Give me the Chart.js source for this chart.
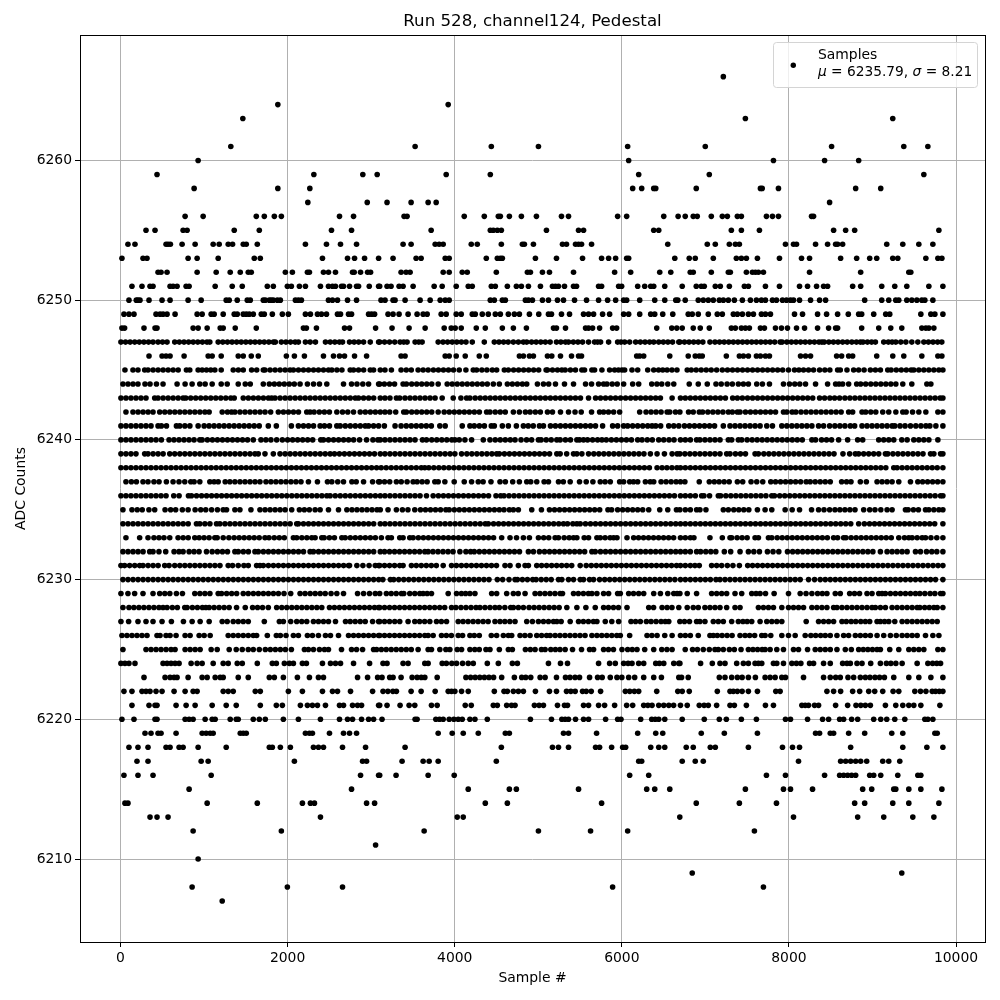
<!DOCTYPE html>
<html><head><meta charset="utf-8">
<style>html,body{margin:0;padding:0;background:#fff}canvas{display:block}</style>
<script src="https://cdn.jsdelivr.net/npm/chart.js@4"></script>
</head><body><canvas id="c" width="1000" height="1000"></canvas>
<script>
const xTicks=[0,2000,4000,6000,8000,10000];
const yTicks=[6210,6220,6230,6240,6250,6260];
const titleText="Run 528, channel124, Pedestal";
const xLabel="Sample #";
const yLabel="ADC Counts";
const seriesName="Samples";
const statMu="6235.79";
const statSigma="8.21";
const row6207=[1217];
const row6208=[857,1997,2657,5890,7695];
const row6209=[6843,9351];
const row6210=[929];
const row6211=[3053];
const row6212=[869,1925,3634,5002,5626,6070,7587];
const row6213=[353,437,569,2393,4030,4102,6694,8055,8823,9135,9483,9735];
const row6214=[53,89,1037,1637,2177,2273,2321,2945,3041,4366,4630,5758,6891,7407,7851,8787,8907,9243,9435,9795];
const row6215=[821,2765,4162,4654,4738,5482,6298,6394,6574,7479,7935,8019,8283,8883,8991,9255,9279,9435,9579,9831];
const row6216=[41,209,389,1085,2873,3089,3102,3298,3682,3994,6094,6322,7731,7959,8427,8607,8655,8703,8751,8799,8967,9015,9099,9303,9543,9579];
const row6217=[197,329,965,1049,2081,2897,2945,3370,3622,3694,3802,4498,6202,6238,6723,6879,6975,8115,8619,8679,8739,8799,8859,8931,9123,9195,9327];
const row6218=[101,209,329,545,593,701,749,929,1265,1781,1817,1913,2033,2309,2369,2429,2657,2933,3406,4558,5170,5242,5362,5686,5734,5878,6010,6046,6346,6442,6514,6771,6855,7059,7119,7515,7923,8043,8127,8739,9363,9651,9843];
const row6219=[293,365,449,485,665,977,1025,1073,1109,1433,1469,1505,2213,2261,2297,2501,2669,2741,2825,3802,3970,4102,4282,4606,4654,5302,5362,5698,6190,6406,6490,6951,7227,7623,8319,8367,8495,8535,8715,8907,9231,9363,9747,9775];
const row6220=[17,161,413,437,773,821,869,1013,1097,1133,1313,1385,1409,1589,1661,1733,1949,2129,2393,2621,2717,2777,2885,2969,3029,3130,3526,3550,3774,3818,3862,3934,3990,4042,4090,4182,4242,4390,4906,5158,5282,5322,5362,5446,5542,5602,5806,5950,5990,6226,6358,6400,6442,6514,6723,6987,7167,7251,7431,7611,7959,8019,8223,8403,8475,8607,8655,8751,8823,9015,9099,9171,9267,9387,9627,9663,9723];
const row6221=[137,341,413,437,665,785,893,1097,1265,1385,1673,1865,1937,2153,2237,2297,2357,2453,2621,2669,2777,2837,2885,3089,3102,3190,3346,3454,3522,3722,3790,4126,4198,4462,4510,4622,4680,4722,4954,5010,5062,5230,5314,5350,5542,5602,5722,5794,5914,6058,6130,6262,6312,6362,6442,6502,6562,6620,6702,6783,6927,6985,7035,7135,7295,7347,7491,7719,7815,8155,8195,8235,8307,8355,8559,8703,8803,8860,8915,8975,9155,9279,9363,9435,9495,9579,9807];
const row6222=[41,137,257,305,353,425,497,641,773,869,917,1229,1289,1349,1613,1673,2009,2177,2417,2537,2597,2753,3017,3142,3200,3260,3302,3478,3598,3766,3922,3962,4002,4082,4162,4474,4590,4630,4702,4762,4822,4966,5134,5218,5338,5390,5442,5530,5574,5634,5746,6042,6095,6150,6202,6418,6670,6723,6807,7143,7295,7335,7383,7440,7515,7623,7843,7895,8455,8535,8619,8763,8847,8955,9027,9123,9247,9315,9507,9575,9640,9715,9755,9800,9843];
const row6223=[281,533,593,641,677,809,977,1037,1133,1193,1229,1409,1529,1781,1841,1949,2117,2261,2369,2429,2837,2957,3077,3130,3222,3262,3358,3490,3550,3600,3642,3790,4134,4190,4245,4300,4355,4410,4465,4562,4714,4802,4850,4910,5022,5082,5218,5326,5380,5440,5494,5614,5710,5765,5862,5942,6000,6082,6154,6262,6382,6474,6682,6715,6795,7167,7235,7315,7383,7440,7515,7599,7715,7775,7835,7915,7959,8175,8415,8495,8560,8615,8707,8775,8855,8915,8970,9030,9085,9143,9255,9435,9555,9699,9843];
const row6224=[5,53,101,173,509,557,605,653,701,845,917,977,1109,1229,1289,1397,1457,1637,1817,1865,1961,2021,2069,2177,2225,2417,2513,2573,2633,2789,2981,3142,3190,3382,3442,3642,3682,3850,3900,3965,4022,4094,4162,4222,4390,4522,4690,4750,5122,5266,5350,5722,5854,5922,6022,6075,6122,6202,6262,6406,6450,6502,6622,6682,6695,6943,7083,7175,7235,7375,7455,7515,7595,7635,7675,7815,7855,7935,8035,8090,8143,8247,8295,8415,8495,8643,8695,8735,8815,8875,8979,9095,9167,9220,9280,9355,9535,9663,9720,9770,9815];
const row6225=[29,305,365,425,485,545,605,653,773,833,893,953,1085,1157,1301,1385,1457,1529,1589,1661,1733,1793,1853,1913,1973,2045,2201,2249,2309,2381,2441,2489,2645,2765,2825,2897,3029,3065,3122,3180,3240,3300,3360,3420,3480,3562,3682,3722,3822,3894,3942,4030,4082,4182,4240,4294,4374,4422,4534,4642,4690,4846,4905,4962,5038,5082,5150,5205,5260,5322,5410,5518,5614,5662,5782,5840,5900,6002,6070,6125,6182,6274,6382,6478,6540,6602,6759,6847,6905,6975,7047,7115,7155,7215,7287,7347,7427,7515,7570,7625,7680,7715,7775,7855,7935,8055,8115,8223,8315,8375,8435,8495,8575,8675,8747,8835,8890,8945,9000,9055,9095,9207,9315,9435,9495,9555,9615,9783,9843];
const row6226=[17,77,137,197,257,317,437,473,545,593,665,773,833,941,1001,1073,1289,1349,1409,1469,1529,1589,1629,1757,1865,1913,1981,2069,2129,2237,2297,2369,2453,2513,2609,2729,2789,2849,2909,2969,3029,3089,3102,3160,3220,3280,3340,3400,3460,3520,3580,3642,3682,3742,3842,3900,3960,4042,4094,4182,4234,4294,4438,4502,4582,4642,4682,4782,4840,4902,4982,5040,5100,5142,5202,5260,5320,5380,5440,5500,5560,5642,5702,5760,5820,5880,5940,5982,6094,6302,6360,6422,6514,6602,6702,6760,6820,6915,7055,7095,7143,7200,7260,7320,7415,7475,7530,7590,7675,7715,7783,7915,7995,8075,8195,8263,8320,8380,8435,8495,8575,8655,8715,8795,8855,8915,8975,9055,9135,9215,9285,9355,9415,9475,9535,9635,9723,9795];
const row6227=[5,97,209,305,389,497,609,753,857,953,1061,1217,1277,1349,1409,1469,1529,1721,1901,1949,2037,2109,2169,2229,2309,2369,2429,2489,2573,2693,2749,2809,2869,2929,3017,3089,3102,3160,3220,3282,3342,3442,3522,3580,3640,3702,3782,3840,3902,4042,4100,4160,4220,4280,4340,4400,4482,4542,4600,4660,4722,4862,4930,5002,5062,5122,5182,5222,5274,5382,5482,5540,5600,5660,5702,5802,5880,5962,6110,6165,6222,6294,6350,6410,6470,6520,6562,6695,6750,6810,6895,6935,6995,7095,7155,7215,7315,7395,7450,7500,7555,7655,7735,7795,7855,7915,8207,8355,8415,8475,8535,8635,8687,8745,8800,8860,8915,8967,9055,9095,9145,9195,9267,9355,9415,9475,9535,9595,9655,9715,9775];
const row6228=[29,101,160,220,280,340,400,460,509,557,620,680,769,797,860,920,980,1021,1061,1120,1180,1240,1300,1389,1493,1581,1640,1700,1769,1869,1930,1990,2050,2110,2170,2230,2290,2350,2409,2501,2560,2620,2680,2740,2800,2860,2920,2980,3040,3089,3102,3160,3220,3280,3340,3400,3460,3520,3580,3640,3700,3760,3820,3880,3962,4014,4075,4135,4195,4255,4302,4362,4422,4482,4534,4600,4670,4702,4762,4822,4890,4950,5010,5070,5130,5190,5250,5342,5462,5570,5682,5782,5840,5900,5960,6062,6322,6380,6482,6542,6600,6682,6783,6855,6915,6995,7055,7115,7175,7255,7355,7415,7635,7695,7755,7815,7915,7995,8055,8115,8175,8275,8335,8395,8455,8535,8575,8635,8695,8755,8815,8875,8935,8995,9035,9095,9155,9235,9295,9355,9415,9475,9535,9567,9625,9680,9735,9775,9843];
const row6229=[5,89,169,269,389,469,530,590,669,741,889,950,1010,1070,1169,1209,1270,1330,1390,1469,1529,1590,1650,1710,1770,1830,1890,1957,2037,2149,2209,2270,2330,2390,2450,2520,2589,2669,2837,2909,2980,3049,3102,3182,3240,3300,3362,3390,3462,3522,3582,3622,3670,3722,3922,4022,4080,4130,4182,4242,4442,4502,4622,4702,4760,4842,4962,5020,5080,5140,5200,5262,5290,5422,5480,5540,5600,5642,5702,5782,5842,5950,5982,6082,6140,6202,6262,6382,6462,6550,6622,6662,6695,6783,6895,7075,7135,7195,7255,7355,7435,7555,7607,7655,7720,7823,7995,8135,8205,8275,8343,8400,8455,8555,8615,8727,8785,8845,8935,8995,9075,9115,9155,9215,9275,9335,9395,9455,9515,9567,9627,9690,9747,9815,9843];
const row6230=[29,90,150,210,270,330,390,450,510,570,630,690,750,810,870,930,990,1050,1110,1170,1230,1290,1350,1410,1470,1530,1590,1650,1710,1770,1830,1890,1950,2010,2070,2130,2190,2250,2310,2370,2430,2490,2550,2610,2670,2730,2790,2850,2910,2970,3030,3090,3140,3230,3270,3330,3390,3450,3510,3570,3630,3690,3750,3810,3870,3930,3990,4050,4110,4170,4230,4290,4350,4410,4510,4574,4650,4722,4750,4810,4870,4934,4974,5035,5095,5155,5242,5282,5362,5422,5502,5542,5614,5662,5734,5795,5855,5915,5975,6035,6095,6155,6215,6275,6335,6395,6455,6515,6575,6635,6702,6760,6820,6880,6940,7000,7060,7127,7175,7235,7295,7355,7415,7475,7535,7595,7655,7715,7775,7835,7895,7955,8015,8075,8135,8235,8307,8375,8435,8495,8555,8615,8675,8735,8795,8855,8915,8975,9035,9095,9155,9215,9275,9335,9395,9455,9515,9575,9635,9695,9755,9843];
const row6231=[5,49,109,170,229,269,330,390,450,529,581,649,710,770,830,890,950,1010,1070,1130,1190,1289,1341,1409,1477,1529,1629,1669,1709,1770,1830,1890,1950,2010,2070,2130,2190,2250,2310,2370,2430,2490,2550,2610,2670,2729,2741,2829,2901,2975,3049,3089,3102,3160,3220,3280,3342,3382,3482,3540,3600,3660,3720,3780,3862,3962,4020,4080,4140,4200,4260,4320,4380,4440,4500,4602,4662,4762,4842,4882,4982,5040,5100,5160,5220,5280,5340,5400,5502,5574,5635,5695,5755,5815,5875,5935,5995,6055,6115,6175,6235,6295,6355,6415,6475,6535,6595,6655,6702,6760,6820,6875,6927,7075,7135,7195,7263,7330,7407,7507,7565,7625,7685,7745,7805,7865,7925,7985,8045,8105,8165,8225,8285,8345,8405,8465,8525,8585,8645,8705,8765,8825,8885,8945,9005,9065,9125,9185,9245,9305,9365,9425,9485,9545,9605,9665,9725,9785,9843];
const row6232=[29,90,150,210,270,349,389,460,541,641,700,749,821,880,940,1029,1097,1160,1220,1280,1369,1409,1470,1530,1609,1649,1710,1770,1830,1890,1950,2010,2070,2130,2190,2269,2309,2370,2430,2490,2550,2610,2670,2730,2790,2850,2910,2970,3030,3109,3160,3220,3280,3340,3400,3460,3520,3580,3642,3682,3740,3800,3860,3920,3980,4062,4134,4190,4234,4295,4355,4415,4475,4535,4595,4655,4715,4775,4882,4942,5014,5075,5135,5195,5255,5315,5375,5435,5495,5555,5642,5682,5745,5805,5865,5925,5985,6045,6105,6165,6225,6285,6345,6405,6465,6525,6585,6645,6702,6760,6820,6895,6943,7005,7065,7125,7227,7303,7415,7515,7580,7647,7743,7810,7879,7983,8045,8105,8165,8225,8285,8345,8405,8465,8525,8585,8645,8705,8765,8825,8885,8945,9005,9095,9175,9235,9295,9355,9415,9515,9575,9647,9710,9770,9843];
const row6233=[65,229,329,400,460,520,589,689,750,810,889,941,1000,1060,1129,1157,1229,1297,1360,1420,1480,1540,1600,1660,1729,1777,1840,1900,1960,2069,2109,2170,2230,2289,2329,2409,2437,2500,2560,2649,2689,2750,2810,2870,2930,2990,3050,3122,3202,3242,3342,3382,3462,3502,3565,3625,3685,3745,3805,3865,3925,3985,4045,4105,4165,4225,4285,4345,4405,4465,4562,4662,4740,4822,4894,5002,5065,5125,5202,5242,5310,5370,5422,5462,5550,5602,5702,5742,5800,5860,5902,5942,6062,6142,6200,6260,6320,6380,6440,6500,6560,6620,6702,6760,6820,6863,7055,7203,7295,7315,7380,7440,7500,7595,7635,7755,7795,7860,7920,7980,8040,8100,8160,8220,8280,8340,8400,8460,8535,8583,8655,8683,8745,8805,8865,8925,8985,9045,9105,9165,9225,9315,9383,9435,9475,9535,9595,9635,9700,9770,9843];
const row6234=[29,90,150,210,270,330,390,450,510,570,630,690,750,810,909,949,1010,1070,1149,1189,1250,1310,1370,1430,1490,1550,1610,1670,1730,1790,1850,1910,1970,2030,2109,2129,2190,2250,2310,2370,2430,2490,2550,2610,2670,2730,2790,2850,2910,2970,3030,3109,3165,3225,3285,3345,3405,3465,3525,3585,3645,3705,3765,3825,3885,3945,4005,4065,4125,4185,4245,4305,4366,4402,4465,4525,4585,4645,4705,4765,4825,4885,4945,5005,5065,5125,5185,5245,5302,5350,5414,5462,5502,5565,5625,5685,5745,5805,5865,5925,5985,6045,6105,6165,6225,6285,6345,6405,6465,6525,6585,6645,6702,6760,6820,6880,6940,7000,7060,7120,7180,7240,7300,7360,7420,7480,7540,7600,7660,7720,7780,7840,7900,7960,8020,8080,8140,8200,8260,8320,8380,8440,8500,8560,8620,8680,8740,8835,8903,8965,9025,9085,9145,9205,9265,9325,9385,9445,9505,9565,9625,9685,9745,9843];
const row6235=[29,137,200,260,340,409,533,600,660,740,809,893,960,1020,1090,1160,1229,1269,1369,1429,1561,1669,1730,1790,1850,1910,1970,2049,2141,2200,2260,2329,2389,2489,2609,2709,2770,2830,2890,2950,3010,3070,3109,3202,3302,3374,3440,3522,3590,3650,3710,3770,3830,3894,3934,3995,4055,4115,4175,4235,4295,4355,4415,4475,4534,4590,4654,4702,4762,4922,5038,5134,5195,5255,5315,5375,5435,5495,5555,5615,5675,5735,5834,5878,5950,6010,6070,6130,6190,6250,6322,6454,6550,6654,6695,6760,6820,6895,6935,7007,7215,7275,7340,7400,7460,7520,7623,7715,7795,7955,8039,8127,8271,8355,8420,8487,8551,8610,8670,8730,8791,8895,8967,9030,9100,9175,9235,9395,9427,9490,9550,9635,9675,9735,9795,9843];
const row6236=[5,65,125,185,245,305,365,425,485,545,637,701,813,849,910,970,1030,1090,1150,1210,1270,1330,1390,1450,1510,1570,1630,1690,1750,1810,1870,1930,1990,2050,2110,2170,2230,2290,2350,2410,2469,2509,2570,2630,2690,2750,2810,2870,2930,2990,3050,3109,3165,3225,3285,3345,3405,3465,3525,3585,3662,3742,3805,3865,3925,3985,4045,4105,4165,4225,4285,4345,4405,4494,4550,4590,4650,4710,4770,4830,4890,4950,5010,5070,5130,5190,5250,5310,5370,5430,5490,5550,5610,5670,5730,5790,5850,5910,5970,6030,6090,6150,6210,6270,6330,6390,6450,6510,6570,6630,6702,6760,6820,6880,6955,6983,7050,7155,7183,7245,7305,7365,7425,7485,7545,7605,7665,7725,7795,7827,7890,7950,8010,8070,8130,8190,8250,8310,8370,8430,8490,8550,8610,8670,8730,8790,8850,8910,8970,9030,9090,9150,9210,9270,9330,9390,9450,9510,9570,9630,9690,9750,9815,9843];
const row6237=[65,130,190,269,329,400,461,549,629,700,769,841,881,949,1069,1120,1169,1253,1309,1369,1430,1490,1550,1610,1669,1741,1800,1860,1920,1980,2040,2100,2160,2249,2357,2477,2529,2600,2669,2769,2821,2909,3017,3089,3102,3160,3222,3302,3360,3430,3502,3550,3610,3670,3762,3802,3882,3994,4114,4202,4282,4340,4434,4542,4606,4694,4774,4862,4910,4982,5070,5122,5242,5300,5382,5494,5574,5654,5742,5800,5862,5974,6022,6094,6140,6190,6282,6340,6382,6470,6530,6590,6650,6702,6755,6927,7047,7107,7165,7225,7285,7383,7447,7547,7615,7687,7783,7840,7900,7960,8020,8080,8140,8207,8255,8315,8375,8435,8495,8631,8690,8743,8855,8927,9055,9115,9175,9235,9315,9455,9543,9600,9660,9720,9780,9843];
const row6238=[5,65,125,185,245,305,365,425,485,545,605,665,725,785,845,905,965,1025,1085,1145,1205,1265,1325,1385,1445,1505,1565,1625,1685,1745,1805,1865,1925,1985,2045,2105,2165,2225,2285,2345,2405,2465,2525,2585,2645,2705,2765,2825,2885,2945,3005,3065,3120,3180,3240,3300,3360,3420,3480,3540,3600,3642,3690,3750,3810,3870,3930,3990,4050,4110,4170,4230,4290,4350,4410,4470,4530,4590,4650,4710,4770,4830,4890,4950,5010,5070,5130,5190,5250,5310,5370,5430,5490,5550,5610,5670,5730,5790,5850,5910,5970,6030,6090,6150,6210,6270,6330,6422,6482,6540,6600,6660,6702,6760,6820,6880,6940,7000,7060,7120,7180,7240,7300,7360,7420,7480,7540,7600,7660,7720,7780,7840,7900,7960,8020,8080,8140,8200,8260,8320,8380,8440,8500,8560,8620,8680,8740,8800,8860,8920,8980,9040,9100,9160,9255,9295,9355,9415,9475,9535,9595,9655,9715,9775,9843];
const row6239=[5,65,125,185,289,329,390,450,510,589,649,710,770,830,890,950,1010,1070,1130,1190,1250,1310,1370,1430,1490,1550,1609,1649,1729,1829,1909,1970,2030,2090,2150,2210,2270,2330,2390,2450,2509,2561,2620,2680,2740,2800,2860,2920,2980,3040,3109,3165,3225,3285,3345,3405,3465,3525,3585,3645,3705,3765,3825,3885,3945,4002,4082,4145,4205,4265,4325,4385,4445,4502,4534,4595,4655,4715,4775,4835,4895,4955,5015,5075,5135,5222,5262,5340,5422,5462,5522,5602,5665,5725,5785,5845,5905,5965,6025,6085,6145,6205,6265,6342,6422,6510,6602,6662,6695,6755,6815,6875,6935,6995,7055,7115,7175,7255,7295,7360,7420,7480,7595,7635,7700,7760,7820,7880,7940,8000,8060,8120,8180,8240,8300,8360,8420,8480,8540,8647,8727,8795,8835,8895,8955,9015,9075,9155,9183,9245,9305,9365,9425,9485,9545,9605,9695,9735,9815,9843];
const row6240=[5,65,125,185,245,305,365,425,489,581,640,700,760,820,880,949,977,1040,1100,1160,1220,1280,1340,1400,1460,1520,1589,1681,1740,1800,1869,1937,2000,2060,2120,2180,2240,2300,2397,2429,2490,2550,2610,2670,2730,2790,2861,2945,3021,3080,3109,3165,3225,3285,3345,3405,3465,3525,3614,3662,3725,3785,3845,3905,3965,4002,4054,4122,4202,4342,4422,4485,4545,4605,4665,4722,4794,4860,4920,5002,5034,5095,5155,5222,5262,5325,5385,5462,5494,5542,5590,5650,5710,5762,5814,5875,5935,5995,6055,6115,6190,6242,6305,6365,6442,6502,6565,6625,6702,6760,6820,6895,6935,6995,7055,7115,7175,7275,7315,7395,7435,7500,7560,7620,7680,7740,7800,7860,7920,7980,8040,8100,8160,8275,8319,8391,8450,8510,8595,8703,8823,8883,9075,9135,9195,9255,9351,9415,9495,9555,9615,9675,9783];
const row6241=[5,65,125,185,245,305,365,449,489,550,669,709,770,830,929,1001,1060,1120,1180,1240,1300,1360,1420,1480,1540,1600,1660,1769,1865,2045,2129,2190,2250,2310,2389,2441,2501,2589,2629,2690,2750,2810,2870,2929,2969,3029,3089,3158,3286,3358,3420,3480,3540,3600,3660,3720,3822,3886,4090,4182,4234,4295,4355,4438,4474,4570,4642,4738,4822,4880,4940,5014,5062,5146,5205,5265,5325,5385,5445,5505,5565,5625,5685,5770,5890,5950,6022,6070,6130,6190,6250,6310,6362,6406,6465,6562,6622,6682,6750,6810,6870,6930,6990,7050,7110,7215,7295,7355,7415,7475,7535,7595,7655,7735,7803,7915,7975,8035,8095,8155,8215,8275,8355,8415,8487,8550,8610,8670,8735,8787,8875,8935,8995,9055,9115,9175,9235,9267,9330,9390,9455,9519,9580,9640,9687,9759,9843];
const row6242=[65,149,210,270,330,389,469,530,590,650,710,770,830,890,950,1010,1061,1217,1280,1329,1369,1430,1490,1550,1610,1670,1730,1797,1889,1950,2010,2070,2130,2229,2269,2317,2380,2440,2500,2589,2657,2720,2789,2869,2930,2990,3050,3109,3165,3222,3294,3390,3422,3485,3545,3605,3665,3725,3802,3874,3935,3995,4055,4115,4175,4235,4295,4382,4422,4485,4545,4605,4702,4774,4846,4902,4965,5025,5110,5170,5266,5362,5440,5514,5638,5734,5782,5840,5902,5974,6214,6290,6350,6410,6470,6542,6574,6642,6695,6799,6855,6927,6967,7030,7090,7150,7210,7275,7323,7383,7415,7480,7540,7600,7660,7720,7780,7840,7935,7975,8039,8083,8145,8205,8265,8325,8385,8445,8505,8565,8625,8715,8763,8875,8919,8980,9040,9123,9195,9280,9363,9403,9480,9555,9639,9783,9843];
const row6243=[5,65,125,185,245,305,409,449,510,570,630,690,749,781,840,900,960,1020,1080,1140,1200,1260,1320,1361,1469,1530,1590,1650,1710,1770,1809,1849,1910,1970,2030,2090,2150,2210,2270,2330,2390,2450,2510,2570,2630,2690,2750,2810,2849,2909,2970,3030,3109,3165,3225,3302,3342,3405,3465,3525,3585,3645,3705,3765,3850,3982,4074,4142,4182,4245,4305,4365,4425,4485,4545,4605,4665,4725,4785,4845,4905,4965,5025,5085,5145,5205,5265,5325,5385,5445,5505,5602,5686,5745,5805,5865,5925,5985,6045,6105,6165,6225,6285,6345,6405,6462,6602,6702,6760,6820,6880,6940,7000,7060,7120,7180,7240,7327,7383,7443,7505,7565,7625,7685,7745,7805,7865,7925,7985,8045,8105,8165,8225,8285,8367,8427,8490,8547,8607,8670,8730,8790,8850,8910,8970,9030,9090,9150,9210,9270,9330,9390,9450,9510,9570,9630,9690,9750,9810,9843];
const row6244=[29,90,150,209,293,353,430,509,677,773,857,949,1013,1097,1205,1277,1409,1493,1553,1709,1781,1841,1900,1960,2020,2080,2149,2237,2310,2381,2469,2669,2765,2830,2900,2969,3089,3102,3158,3220,3280,3382,3422,3485,3545,3605,3665,3725,3802,3910,3970,4030,4090,4150,4210,4270,4330,4390,4462,4534,4630,4690,4750,4810,4862,4990,5062,5125,5206,5314,5422,5566,5638,5722,5782,5822,5885,5945,6022,6130,6202,6358,6420,6478,6550,6622,6807,6915,7023,7127,7190,7260,7323,7395,7455,7515,7615,7683,7767,7935,8007,8070,8130,8199,8319,8463,8559,8600,8643,8715,8811,8859,8919,8980,9040,9100,9160,9220,9280,9363,9471,9651,9699];
const row6245=[53,149,209,289,329,390,450,510,570,630,690,789,829,929,977,1029,1080,1129,1205,1349,1410,1469,1569,1630,1709,1729,1790,1850,1910,1970,2029,2069,2130,2190,2250,2310,2369,2429,2489,2529,2590,2650,2749,2789,2849,2910,2989,3029,3109,3165,3242,3358,3420,3480,3562,3622,3682,3745,3805,3865,3925,3985,4054,4134,4222,4262,4325,4385,4450,4502,4594,4642,4705,4765,4825,4885,4945,5005,5094,5110,5170,5230,5282,5322,5385,5445,5522,5554,5642,5674,5762,5854,5914,5960,6002,6034,6122,6190,6310,6382,6440,6490,6542,6600,6660,6783,6831,6890,6950,7010,7070,7135,7203,7265,7325,7385,7445,7505,7565,7625,7685,7745,7805,7865,7925,7995,8067,8120,8175,8235,8295,8367,8430,8490,8583,8615,8695,8775,8835,8900,8975,9035,9095,9183,9223,9285,9345,9405,9463,9495,9555,9615,9675,9735,9795,9843];
const row6246=[341,497,545,593,761,1049,1097,1205,1409,1469,1565,1649,1985,2081,2201,2429,2549,2621,2681,2801,2945,3358,3406,3886,3934,4018,4126,4294,4378,4774,4822,4894,4942,5110,5162,5266,5398,5482,5518,6178,6214,6262,6574,6795,6879,6927,6963,7251,7407,7455,7515,7611,7659,7719,7767,8139,8199,8259,8571,8631,8715,8763,9051,9243,9375,9591,9783,9831];
const row6247=[5,60,115,170,225,280,335,389,449,503,557,649,704,760,815,870,925,980,1035,1069,1169,1224,1280,1335,1390,1445,1500,1555,1610,1665,1720,1775,1830,1853,1925,1980,2035,2090,2129,2213,2270,2333,2453,2510,2565,2620,2657,2741,2796,2850,2909,2989,3089,3102,3160,3220,3282,3346,3390,3430,3526,3570,3610,3802,3860,3915,3970,4025,4080,4135,4210,4354,4474,4530,4585,4640,4702,4762,4822,4862,4920,4975,5030,5085,5142,5218,5270,5326,5362,5420,5475,5530,5602,5674,5710,5746,5842,5950,5990,6034,6094,6166,6222,6278,6333,6382,6442,6497,6552,6607,6682,6695,6750,6805,6860,6915,6970,7055,7115,7170,7225,7280,7335,7390,7445,7500,7555,7610,7665,7720,7775,7830,7895,7919,7975,8030,8085,8140,8195,8250,8305,8360,8395,8423,8478,8533,8588,8643,8698,8753,8808,8855,8887,8940,8990,9035,9135,9190,9235,9279,9339,9400,9471,9543,9615,9670,9725,9780,9830];
const row6248=[17,49,281,413,437,869,929,1037,1193,1229,1373,1625,2189,2225,2345,2681,2741,3053,3250,3454,3646,3874,3958,4006,4078,4258,4366,4570,4702,4858,5182,5218,5326,5566,5602,5650,5734,5890,5938,6418,6598,6658,6723,6855,6939,7047,7311,7359,7431,7479,7527,7659,7707,7839,7911,7983,8091,8187,8343,8475,8559,8583,8871,9075,9219,9351,9591,9639,9675,9735];
const row6249=[41,101,161,425,473,509,557,653,917,977,1085,1121,1229,1361,1397,1469,1505,1541,1589,1685,1721,1817,1937,2009,2213,2273,2357,2405,2465,2597,2633,2729,2765,2969,3005,3041,3202,3262,3334,3442,3550,3622,3670,3838,3898,4018,4078,4210,4246,4330,4402,4486,4546,4642,4714,4774,4894,5006,5122,5158,5278,5374,5542,5602,5662,5770,5854,6022,6082,6214,6346,6394,6490,6610,6795,6843,6915,7035,7143,7203,7335,7383,7443,7515,7575,7671,7719,7779,8067,8163,8343,8451,8583,8711,8835,8871,9015,9159,9207,9579,9699,9747,9843];
const row6250=[101,189,209,233,341,497,593,809,965,1265,1301,1397,1517,1553,1709,1733,1781,1805,1829,1877,1913,2093,2129,2165,2489,2537,2597,2717,2825,3118,3166,3262,3286,3406,3586,3706,3826,3886,3934,4426,4474,4570,4606,4846,4882,4930,5050,5122,5230,5302,5434,5578,5722,5830,5926,6022,6058,6214,6394,6514,6646,6670,6759,6915,6975,7035,7095,7167,7215,7275,7347,7443,7539,7611,7671,7719,7803,7851,7923,7971,8019,8055,8127,8259,8367,8439,8907,9111,9195,9279,9315,9411,9471,9531,9591,9627,9723];
const row6251=[137,257,353,389,593,629,677,785,821,1133,1337,1457,1757,1829,1997,2045,2141,2213,2393,2489,2537,2573,2645,2669,2741,2825,2849,2977,3089,3102,3190,3238,3334,3382,3502,3754,3850,4018,4162,4210,4438,4486,4630,4738,4798,4882,5026,5170,5206,5242,5314,5422,5458,5722,5758,5962,5998,6190,6274,6346,6382,6514,6723,6891,6951,6987,7119,7179,7287,7467,7515,7719,7887,8127,8223,8331,8415,8463,8763,8859,9111,9267,9411,9675,9843];
const row6252=[449,485,557,917,1145,1313,1433,1529,1565,1973,2057,2237,2261,2429,2489,2573,2777,2797,2873,2957,2993,3358,3418,3466,3862,3934,4090,4150,4498,4870,4906,5050,5134,5422,5914,6106,6454,6586,6819,6855,7071,7275,7299,7491,7563,7599,7635,7695,8247,8859,9435,9459];
const row6253=[17,269,317,809,917,1169,1601,1673,2417,2717,2801,2921,3089,3262,3538,3598,3886,3934,4378,4510,4546,4570,4966,5218,5530,5758,5842,5926,6058,6082,6634,6807,6879,7095,7371,7431,7491,7623,7887,8151,8247,8619,8811,8967,9051,9243,9303,9639,9783,9831];
const row6254=[89,173,545,569,597,737,893,1109,1181,1289,1341,1469,1505,1637,2213,2465,2633,2825,3382,3478,3766,3814,3862,4198,4270,4558,4810,4834,4942,5290,5338,5446,5482,5518,5638,6550,7023,7119,7287,7359,7407,7959,8055,8091,8319,8463,8559,8583,8643,9171,9363,9555,9723];
const row6255=[305,413,749,797,1361,1661,2525,2765,3718,4426,4462,4510,4558,5098,5482,5542,6382,6442,7311,7431,7647,8535,8679,8787,9795];
const row6256=[773,989,1625,1721,1841,1925,2621,2789,3394,3430,4114,4354,4522,4546,4654,4798,4978,5278,5362,5950,6058,6502,6674,6759,6855,6903,7071,7203,7263,7383,7431,7731,7803,7875,8271,8295];
const row6257=[2242,2953,3190,3478,3682,3778,8487];
const row6258=[881,1883,2266,6130,6238,6382,6406,6891,7659,7680,7875,8799,9099];
const row6259=[437,2314,2900,3072,3898,4426,6202,7047,9615];
const row6260=[929,6082,7815,8427,8835];
const row6261=[1320,3526,4438,5002,6070,6999,8511,9375,9663];
const row6263=[1464,7479,9243];
const row6264=[1883,3922];
const row6266=[7215];
const levels=[6207,6208,6209,6210,6211,6212,6213,6214,6215,6216,6217,6218,6219,6220,6221,6222,6223,6224,6225,6226,6227,6228,6229,6230,6231,6232,6233,6234,6235,6236,6237,6238,6239,6240,6241,6242,6243,6244,6245,6246,6247,6248,6249,6250,6251,6252,6253,6254,6255,6256,6257,6258,6259,6260,6261,6263,6264,6266];
const rows=[row6207,row6208,row6209,row6210,row6211,row6212,row6213,row6214,row6215,row6216,row6217,row6218,row6219,row6220,row6221,row6222,row6223,row6224,row6225,row6226,row6227,row6228,row6229,row6230,row6231,row6232,row6233,row6234,row6235,row6236,row6237,row6238,row6239,row6240,row6241,row6242,row6243,row6244,row6245,row6246,row6247,row6248,row6249,row6250,row6251,row6252,row6253,row6254,row6255,row6256,row6257,row6258,row6259,row6260,row6261,row6263,row6264,row6266];
const points=[];
rows.forEach((r,i)=>r.forEach(x=>points.push({x:x,y:levels[i]})));
const FONT='"DejaVu Sans"';
const frame={id:'frame',
 beforeDatasetsDraw(ch){const a=ch.chartArea,c=ch.ctx;c.save();c.strokeStyle='#000';c.lineWidth=1;
  c.strokeRect(Math.round(a.left)+.5,Math.round(a.top)+.5,Math.round(a.right-a.left),Math.round(a.bottom-a.top));c.restore();},
 afterDraw(ch){const c=ch.ctx;c.save();
  const bx=773.5,by=42.5,bw=204,bh=45,r=3;
  c.beginPath();c.roundRect(bx,by,bw,bh,r);c.fillStyle='rgba(255,255,255,0.8)';c.fill();c.strokeStyle='#d4d4d4';c.lineWidth=1;c.stroke();
  c.beginPath();c.arc(793.3,65.2,2.7,0,Math.PI*2);c.fillStyle='#000';c.fill();
  c.textAlign='left';c.textBaseline='alphabetic';
  c.font='13.9px '+FONT;c.fillText(seriesName,818,58.5);
  let x=818,y=76;
  [[`\u03bc`,1],[` = ${statMu}, `,0],[`\u03c3`,1],[` = ${statSigma}`,0]].forEach(([t,it])=>{
    c.font=(it?'italic ':'')+'13.75px '+FONT;c.fillText(t,x,y);x+=c.measureText(t).width;});
  c.restore();}};
new Chart(document.getElementById('c'),{
 type:'scatter',
 data:{datasets:[{label:seriesName,data:points,backgroundColor:'#000',borderWidth:0,pointRadius:2.8,pointHoverRadius:2.8}]},
 plugins:[frame],
 options:{responsive:false,animation:false,parsing:false,normalized:true,devicePixelRatio:1,
  layout:{padding:{left:0,top:0,bottom:0,right:15}},
  plugins:{legend:{display:false},tooltip:{enabled:false},
   title:{display:true,text:titleText,fullSize:false,color:'#000',font:{family:FONT,size:16.67,weight:'normal',lineHeight:1.2},padding:{top:12,bottom:3}}},
  scales:{
   x:{type:'linear',min:-485,max:10347,
    afterBuildTicks(s){s.ticks=xTicks.map(v=>({value:v}));},
    afterFit(s){s.height=58;},
    grid:{color:'#b0b0b0',lineWidth:1,tickColor:'#000',tickLength:5,drawOnChartArea:true},
    border:{color:'#000',display:false},
    ticks:{color:'#000',font:{family:FONT,size:13.9},maxRotation:0,padding:3,autoSkip:false,callback:v=>String(v)},
    title:{display:true,text:xLabel,color:'#000',font:{family:FONT,size:13.9},padding:{top:4,bottom:13}}},
   y:{type:'linear',min:6204.06,max:6268.98,
    afterBuildTicks(s){s.ticks=yTicks.map(v=>({value:v}));},
    afterFit(s){s.width=80;},
    grid:{color:'#b0b0b0',lineWidth:1,tickColor:'#000',tickLength:5},
    border:{color:'#000',display:false},
    ticks:{color:'#000',font:{family:FONT,size:13.9},padding:3,autoSkip:false,callback:v=>String(v)},
    title:{display:true,text:yLabel,color:'#000',font:{family:FONT,size:13.9},padding:{top:13,bottom:4}}}
  }}});
</script></body></html>
